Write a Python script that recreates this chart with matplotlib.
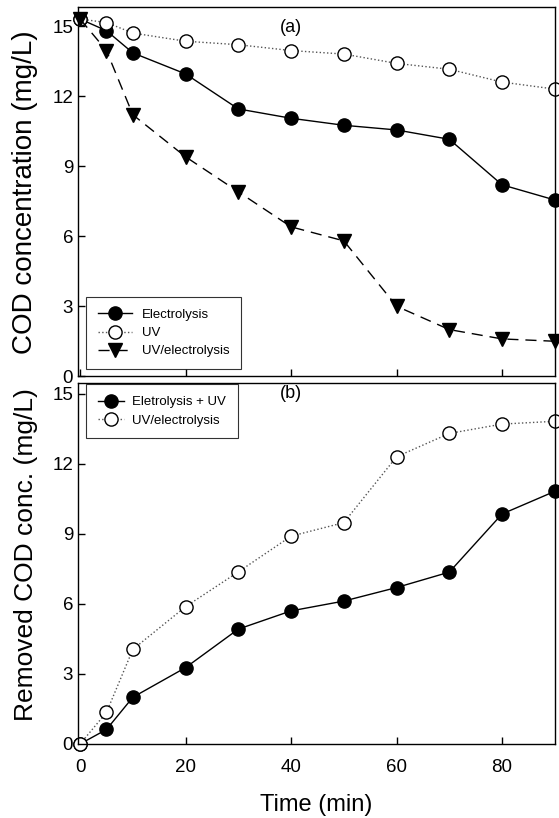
import matplotlib
matplotlib.use("Agg")
import matplotlib.pyplot as plt

plt.rcParams['font.family'] = ['Liberation Sans', 'DejaVu Sans']

# sampling times (min)
time = [0, 5, 10, 20, 30, 40, 50, 60, 70, 80, 90]

# (a) COD concentration (mg/L)
cod_electrolysis = [15.3, 14.8, 13.85, 12.95, 11.45, 11.05, 10.75, 10.55, 10.15, 8.2, 7.55]
cod_uv = [15.3, 15.15, 14.7, 14.35, 14.2, 13.95, 13.8, 13.4, 13.15, 12.6, 12.3]
cod_uv_electrolysis = [15.3, 13.95, 11.2, 9.4, 7.9, 6.4, 5.8, 3.0, 2.0, 1.6, 1.5]

# (b) removed COD conc. (mg/L)
removed_sum = [0, 0.62, 2.0, 3.27, 4.92, 5.7, 6.12, 6.7, 7.36, 9.85, 10.82]
removed_combined = [0, 1.35, 4.05, 5.88, 7.37, 8.9, 9.48, 12.3, 13.3, 13.7, 13.82]

yticks = [0, 3, 6, 9, 12, 15]
xticks = [0, 20, 40, 60, 80]

fig = plt.figure(figsize=(5.59, 8.18), dpi=100)
ax1 = fig.add_axes([0.1395, 0.540, 0.853, 0.451])
ax2 = fig.add_axes([0.1395, 0.0905, 0.853, 0.441])

ms = 9.5
ax1.plot(time, cod_electrolysis, '-', color='black', lw=1, marker='o', ms=ms,
         mfc='black', mec='black', label='Electrolysis')
ax1.plot(time, cod_uv, ':', color='#555555', lw=1, marker='o', ms=ms,
         mfc='white', mec='black', label='UV')
ax1.plot(time, cod_uv_electrolysis, color='black', lw=1, ls=(0, (8, 5)), marker='v', ms=ms + 1,
         mfc='black', mec='black', label='UV/electrolysis')

ax2.plot(time, removed_sum, '-', color='black', lw=1, marker='o', ms=ms,
         mfc='black', mec='black', label='Eletrolysis + UV')
ax2.plot(time, removed_combined, ':', color='#555555', lw=1, marker='o', ms=ms,
         mfc='white', mec='black', label='UV/electrolysis')

for ax, ymax in [(ax1, 15.8), (ax2, 15.45)]:
    ax.set_xlim(-0.4, 90)
    ax.set_ylim(0, ymax)
    ax.set_yticks(yticks)
    ax.set_xticks(xticks)
    ax.tick_params(direction='in', length=5, width=1, labelsize=13.5, right=False, top=False)
    ax.tick_params(axis='x', pad=11)
    for s in ax.spines.values():
        s.set_linewidth(1)
    for line in ax.get_lines():
        line.set_clip_on(False)

ax1.tick_params(labelbottom=False)
ax1.set_ylabel('COD concentration (mg/L)', fontsize=20)
ax2.set_ylabel('Removed COD conc. (mg/L)', fontsize=19)
ax1.yaxis.set_label_coords(-0.084, 0.5)
ax2.yaxis.set_label_coords(-0.084, 0.525)
ax2.set_xlabel('Time (min)', fontsize=17, labelpad=13)

ax1.text(40, 14.95, '(a)', ha='center', va='center', fontsize=13)
ax2.text(40, 15.0, '(b)', ha='center', va='center', fontsize=13)

leg_kw = dict(fontsize=9.5, frameon=True, fancybox=False, edgecolor='black',
              borderaxespad=0, borderpad=0.9, labelspacing=0.45)
l1 = ax1.legend(loc='lower left', bbox_to_anchor=(0.017, 0.019), handlelength=2.6,
                handletextpad=0.7, **leg_kw)
l2 = ax2.legend(loc='upper left', bbox_to_anchor=(0.017, 0.997), handlelength=2.0,
                handletextpad=0.6, **leg_kw)
for leg in (l1, l2):
    leg.get_frame().set_linewidth(0.8)

fig.savefig('out.png', dpi=100)
